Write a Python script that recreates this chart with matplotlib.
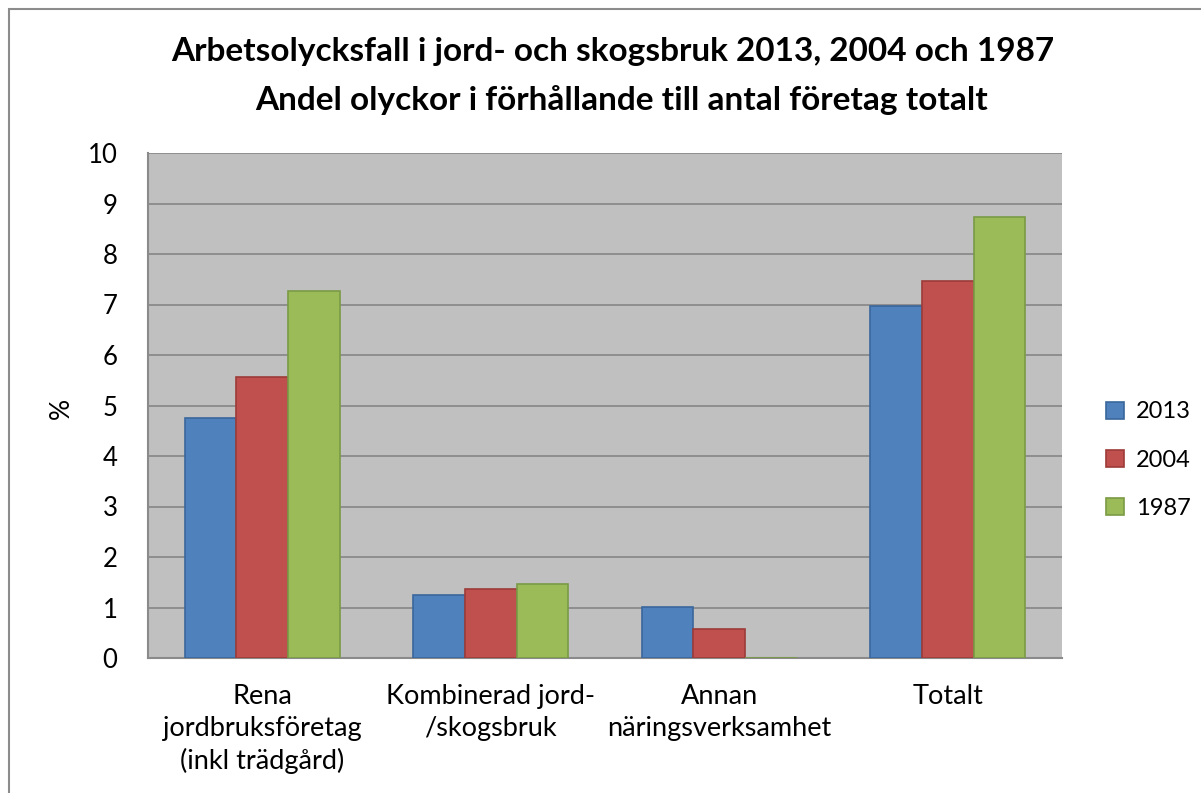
import matplotlib
matplotlib.use("Agg")
import matplotlib.pyplot as plt
import numpy as np
from matplotlib.patches import Rectangle

categories = ["Rena\njordbruksföretag\n(inkl trädgård)", "Kombinerad jord-\n/skogsbruk",
              "Annan\nnäringsverksamhet", "Totalt"]
series_names = ["2013", "2004", "1987"]
v2013 = [4.76, 1.24, 1.01, 6.97]
v2004 = [5.57, 1.36, 0.58, 7.47]
v1987 = [7.26, 1.47, 0.0, 8.74]
yticks = list(range(0, 11))

colors = ["#4f81bd", "#c0504d", "#9bbb59"]
edges = ["#3a679c", "#9c3b38", "#7a9a45"]

plt.rcParams['font.family'] = ['Lato', 'DejaVu Sans']

fig = plt.figure(figsize=(12.01, 7.93), dpi=100)
fig.patches.append(Rectangle((9/1201, -0.1), 1.2, 1 - 9/793 + 0.1, transform=fig.transFigure,
                             fill=False, edgecolor="#8c8c8c", linewidth=1.5))
ax = fig.add_axes([148/1201, 1 - 658/793, (1062-148)/1201, (658-153)/793])
ax.set_facecolor("#c0c0c0")

x = np.arange(len(categories))
w = 0.226
for i, (vals, c, e, n) in enumerate(zip([v2013, v2004, v1987], colors, edges, series_names)):
    ax.bar(x + (i - 1) * w, vals, w, color=c, edgecolor=e, linewidth=1.2, label=n, zorder=3)

ax.set_xlim(-0.5, 3.5)
ax.set_ylim(0, 10)
ax.set_yticks(yticks)
ax.set_yticklabels([str(t) for t in yticks], fontsize=18.5)
ax.set_xticks(x)
ax.set_xticklabels(categories, fontsize=19.5, linespacing=1.33)
ax.tick_params(axis='x', length=0, pad=19)
ax.tick_params(axis='y', length=0, pad=22)
ax.yaxis.grid(True, color="#8a8a8a", linewidth=1.3, zorder=0)
ax.set_axisbelow(True)
for s in ["top", "right"]:
    ax.spines[s].set_visible(False)
ax.spines["left"].set_color("#8a8a8a")
ax.spines["left"].set_linewidth(1.5)
ax.spines["bottom"].set_color("#8a8a8a")
ax.spines["bottom"].set_linewidth(1.5)

fig.text(61/1201, 1 - 408/793, "%", rotation=90, fontsize=19, ha="center", va="center")

fig.text(613/1201, 1 - 52/793, "Arbetsolycksfall i jord- och skogsbruk 2013, 2004 och 1987",
         fontsize=24, fontweight="bold", ha="center", va="center")
fig.text(622/1201, 1 - 100/793, "Andel olyckor i förhållande till antal företag totalt",
         fontsize=24, fontweight="bold", ha="center", va="center")

leg = ax.legend(loc="center left", bbox_to_anchor=(1.025, 0.392), frameon=False, fontsize=17,
                handlelength=0.75, handleheight=0.75, handletextpad=0.5, labelspacing=1.15)

fig.savefig("out.png", dpi=100)
